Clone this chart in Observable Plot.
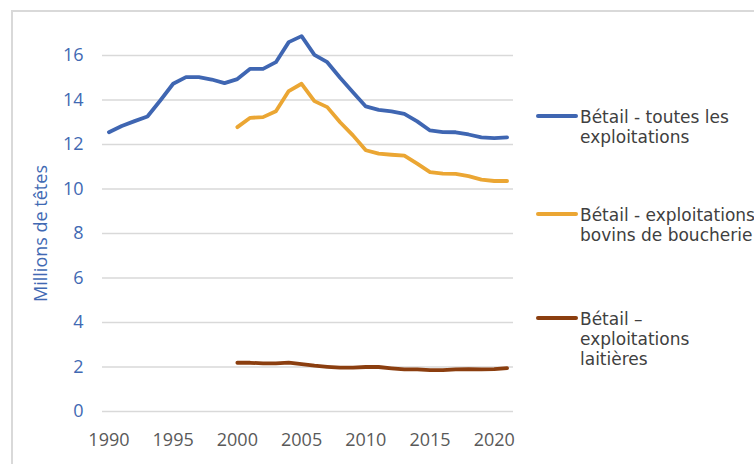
<!DOCTYPE html>
<html><head><meta charset="utf-8">
<script src="https://cdn.jsdelivr.net/npm/d3@7"></script>
<script src="https://cdn.jsdelivr.net/npm/@observablehq/plot@0.6"></script>
<style>
body{margin:0;background:#fff;}
#wrap{position:relative;width:754px;height:464px;overflow:hidden;font-family:"Open Sans",sans-serif;background:#fff;}
#frame{position:absolute;left:11px;top:10px;right:-10px;bottom:-10px;border-left:2px solid #d9d9d9;border-top:2px solid #d9d9d9;pointer-events:none;}
#chart{position:absolute;left:0;top:0;}
.sw{position:absolute;left:536px;width:42px;height:4px;border-radius:2px;}
.lt{position:absolute;left:580px;width:220px;font-family:"DejaVu Sans",sans-serif;font-size:17px;color:#404040;white-space:nowrap;}
.ln{display:block;height:20px;line-height:20px;}
</style></head>
<body>
<div id="wrap">
  <div id="chart"></div>
  <div id="frame"></div>
  <div id="legend"></div>
</div>
<script>
const seriesNames = ["Bétail - toutes les exploitations", "Bétail - exploitations bovins de boucherie", "Bétail – exploitations laitières"];
const legendLines = [["Bétail - toutes les", "exploitations"], ["Bétail - exploitations", "bovins de boucherie"], ["Bétail –", "exploitations", "laitières"]];
const seriesColors = ["#3f66b2", "#eba633", "#8b3e0f"];

const yearsAll = [1990,1991,1992,1993,1994,1995,1996,1997,1998,1999,2000,2001,2002,2003,2004,2005,2006,2007,2008,2009,2010,2011,2012,2013,2014,2015,2016,2017,2018,2019,2020,2021];
const toutes = [12.55,12.83,13.05,13.26,13.98,14.73,15.03,15.03,14.92,14.76,14.94,15.40,15.40,15.70,16.60,16.87,16.03,15.70,15.00,14.35,13.71,13.56,13.49,13.38,13.04,12.63,12.56,12.55,12.45,12.32,12.29,12.32];

const years2000 = [2000,2001,2002,2003,2004,2005,2006,2007,2008,2009,2010,2011,2012,2013,2014,2015,2016,2017,2018,2019,2020,2021];
const boucherie = [12.78,13.20,13.23,13.49,14.40,14.73,13.95,13.68,13.00,12.41,11.74,11.59,11.54,11.50,11.14,10.76,10.69,10.68,10.58,10.42,10.36,10.36];
const laitieres = [2.19,2.19,2.16,2.16,2.20,2.13,2.06,2.01,1.97,1.97,2.00,2.00,1.94,1.89,1.89,1.86,1.86,1.89,1.90,1.89,1.90,1.95];

const yTicks = [0,2,4,6,8,10,12,14,16];
const xTicks = [1990,1995,2000,2005,2010,2015,2020];
const yLabel = "Millions de têtes";

const rows = [
  ...yearsAll.map((y,i)=>({year:y, value:toutes[i], series:seriesNames[0]})),
  ...years2000.map((y,i)=>({year:y, value:boucherie[i], series:seriesNames[1]})),
  ...years2000.map((y,i)=>({year:y, value:laitieres[i], series:seriesNames[2]}))
];

const blue = "#4169b3";
const plot = Plot.plot({
  width: 754, height: 464,
  marginLeft: 102, marginRight: 241, marginTop: 55, marginBottom: 53,
  style: {fontFamily: "Open Sans, sans-serif", fontSize: "18px", background: "transparent", overflow: "visible"},
  x: {domain: [1989.5, 2021.5]},
  y: {domain: [0, 16]},
  color: {domain: seriesNames, range: seriesColors},
  marks: [
    Plot.gridY(yTicks, {stroke: "#d9d9d9", strokeOpacity: 1, strokeWidth: 1.5}),
    Plot.axisY(yTicks, {tickSize: 0, tickPadding: 19, color: blue, label: null, fontSize: 18}),
    Plot.axisX(xTicks, {tickSize: 0, tickPadding: 22, color: "#595959", tickFormat: d => String(d), label: null, fontSize: 18}),
    Plot.line(rows, {x: "year", y: "value", z: "series", stroke: "series", strokeWidth: 3.8, strokeLinejoin: "round", strokeLinecap: "round"}),
    Plot.text([yLabel], {text: d => d, frameAnchor: "left", dx: -61, rotate: -90, textAnchor: "middle", lineAnchor: "middle", fill: blue, fontSize: 18})
  ]
});
document.getElementById("chart").appendChild(plot);

const legendTops = [107, 205, 309];
const leg = document.getElementById("legend");
seriesNames.forEach((name, i) => {
  const sw = document.createElement("div");
  sw.className = "sw";
  sw.style.top = (legendTops[i] + 7) + "px";
  sw.style.background = seriesColors[i];
  leg.appendChild(sw);
  const t = document.createElement("div");
  t.className = "lt";
  t.style.top = legendTops[i] + "px";
  legendLines[i].forEach(line => {
    const s = document.createElement("div");
    s.className = "ln";
    s.textContent = line;
    t.appendChild(s);
  });
  leg.appendChild(t);
});
</script>
</body></html>
